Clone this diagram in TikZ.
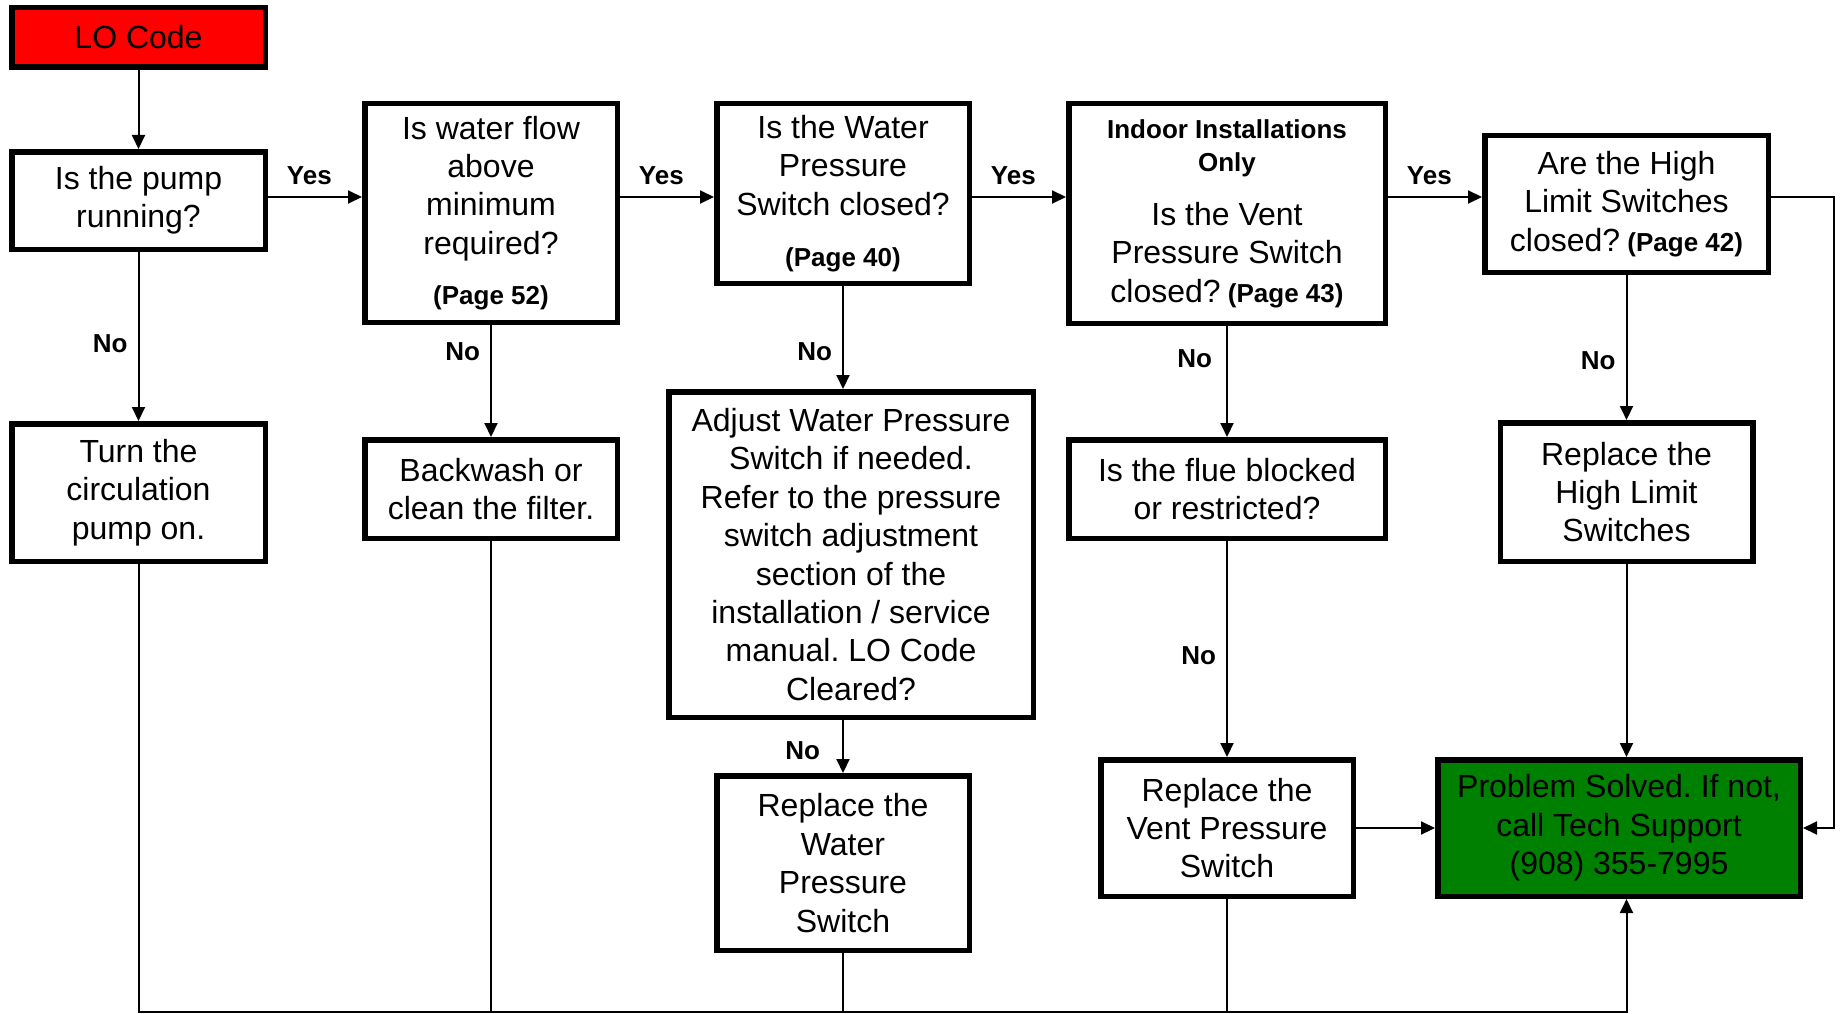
\documentclass[tikz,border=0pt]{standalone}
\usepackage{fontspec}
\setmainfont{Liberation Sans}
\usepackage{xcolor}
\usetikzlibrary{arrows.meta, positioning}
\definecolor{cAlarm}{RGB}{255,0,0}
\definecolor{cSolved}{RGB}{0,128,0}
\tikzset{
	box/.style ={rectangle, draw=black, line width=5.5pt, align=center, inner sep=2pt, font=\fontsize{32}{38.4}\selectfont},
	lbl/.style ={font=\fontsize{26}{31}\selectfont\bfseries, inner sep=0pt},
	flow/.style={-{Triangle[length=14pt, width=13pt]}, line width=2pt},
	wire/.style={line width=2pt},
}
\newcommand{\pgnote}[1]{{\fontsize{26}{31}\selectfont\bfseries #1}}
\frenchspacing

\begin{document}
\begin{tikzpicture}[x=1pt, y=-1pt]
	\useasboundingbox (0,0) rectangle (1841,1014);
	\coordinate (yes) at (0,197);
	\coordinate (bus) at (0,1012);
	% questions
	\node[box, minimum width=253.5pt, minimum height=97.5pt] (q1) at (138.5,200.5) {Is the pump\\running?};
	\node[box, fill=cAlarm, minimum width=253.5pt, minimum height=59.5pt, above=79pt of q1] (lo) {LO Code};
	\node[box, minimum width=252.5pt, minimum height=218.5pt] (q2) at (491,213) {Is water flow\\above\\minimum\\required?\\[12pt]\pgnote{(Page 52)}};
	\node[box, minimum width=252.5pt, minimum height=179.5pt] (q3) at (843,193.5) {Is the Water\\Pressure\\Switch closed?\\[13pt]\pgnote{(Page 40)}};
	\node[box, minimum width=316.5pt, minimum height=219.5pt] (q4) at (1227,213.5) {\pgnote{Indoor Installations}\\[-5.4pt]\pgnote{Only}\\[15.6pt]Is the Vent\\Pressure Switch\\closed?\pgnote{ (Page 43)}};
	\node[box, minimum width=283.5pt, minimum height=136.5pt] (q5) at (1626.5,204) {Are the High\\Limit Switches\\closed?\pgnote{ (Page 42)}};
	% actions
	\node[box, minimum width=253.5pt, minimum height=137.5pt, below=169pt of q1] (a1) {Turn the\\circulation\\pump on.};
	\node[box, minimum width=252.5pt, minimum height=98.5pt, below=112pt of q2] (a2) {Backwash or\\clean the filter.};
	\node[box, minimum width=364.5pt, minimum height=325.5pt, below=103pt of q3, xshift=8pt] (a3) {Adjust Water Pressure\\Switch if needed.\\Refer to the pressure\\switch adjustment\\section of the\\installation / service\\manual. LO Code\\Cleared?};
	\node[box, minimum width=316.5pt, minimum height=98.5pt, below=111pt of q4] (a4) {Is the flue blocked\\or restricted?};
	\node[box, minimum width=252.5pt, minimum height=138.5pt, below=145pt of q5] (a5) {Replace the\\High Limit\\Switches};
	\node[box, minimum width=252.5pt, minimum height=174.5pt, below=53pt of a3, xshift=-8pt] (a3b) {Replace the\\Water\\Pressure\\Switch};
	\node[box, minimum width=252.5pt, minimum height=136.5pt, below=216pt of a4] (a4b) {Replace the\\Vent Pressure\\Switch};
	\node[box, fill=cSolved, minimum width=362.5pt, minimum height=136.5pt, right=79pt of a4b] (end) {Problem Solved. If not,\\call Tech Support\\(908) 355-7995};
	% yes branch
	\draw[flow] (lo) -- (q1);
	\draw[flow] (q1.east |- yes) -- node[lbl, above=11pt, pos=0.44] (yes1) {Yes} (q2.west |- yes);
	\draw[flow] (q2.east |- yes) -- node[lbl, above=11pt, pos=0.44] (yes2) {Yes} (q3.west |- yes);
	\draw[flow] (q3.east |- yes) -- node[lbl, above=11pt, pos=0.44] (yes3) {Yes} (q4.west |- yes);
	\draw[flow] (q4.east |- yes) -- node[lbl, above=11pt, pos=0.44] (yes4) {Yes} (q5.west |- yes);
	\draw[flow] (q5.east |- yes) -- ++(63,0) |- (end.east);
	% no branch
	\draw[flow] (q1) -- node[lbl, left=10pt, pos=0.54] (no1) {No} (a1);
	\draw[flow] (q2) -- node[lbl, left=10pt, pos=0.24] (no2) {No} (a2);
	\draw[flow] (q3.south) -- node[lbl, left=10pt, pos=0.64] (no3) {No} (q3.south |- a3.north);
	\draw[flow] (q4) -- node[lbl, left=14pt, pos=0.29] (no4) {No} (a4);
	\draw[flow] (q5) -- node[lbl, left=10pt, pos=0.59] (no5) {No} (a5);
	\draw[flow] (a4) -- node[lbl, left=10pt, pos=0.53] (no6) {No} (a4b);
	\draw[flow] (a3b.north |- a3.south) -- node[lbl, left=22pt, pos=0.58] (no7) {No} (a3b.north);
	\draw[flow] (a4b) -- (end);
	\draw[flow] (a5.south) -- (a5.south |- end.north);
	% return bus
	\draw[wire] (a2.south) -- (a2.south |- bus);
	\draw[wire] (a3b.south) -- (a3b.south |- bus);
	\draw[wire] (a4b.south) -- (a4b.south |- bus);
	\draw[flow] (a1.south) |- (bus -| a5.south) -- (a5.south |- end.south);
\end{tikzpicture}
\end{document}
